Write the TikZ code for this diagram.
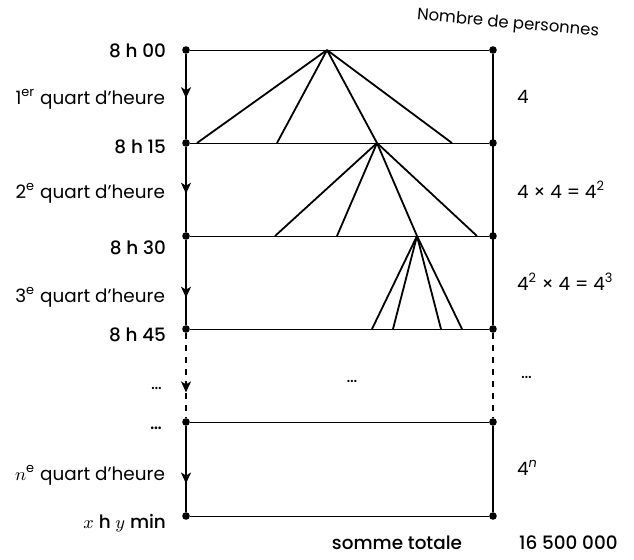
\documentclass[tikz,border=0pt]{standalone}
\usepackage{fontspec}
\setmainfont{Poppins}
\newfontfamily\medfont{Poppins Medium}
\usetikzlibrary{arrows.meta, decorations.markings}

\begin{document}
\begin{tikzpicture}[
  x=0.5pt, y=-0.5pt,
  >=Stealth,
  font=\fontsize{9.2}{11}\selectfont,
  dot/.style={circle, fill=black, inner sep=0pt, minimum size=3.8pt},
  timeline/.style={line width=0.9pt},
  rowline/.style={line width=0.4pt},
  branch/.style={line width=0.9pt},
  flow/.style={timeline, postaction={decorate}, decoration={markings, mark=at position #1 with {\arrow{Stealth[length=5.5pt,width=5pt,inset=1.5pt]}}}},
  timelab/.style={anchor=east, font=\fontsize{9.2}{11}\medfont},
  steplab/.style={anchor=east},
  countlab/.style={anchor=west}
]
\useasboundingbox (0,0) rectangle (634,559);

% Rows (one per quarter of an hour)
\foreach \i/\y in {0/50, 1/143, 2/236, 3/329, 4/422, 5/516} {
  \node[dot] (t\i) at (186,\y) {};
  \node[dot] (p\i) at (493,\y) {};
  \draw[rowline] (t\i) -- (p\i);
}

% Time axis (left)
\draw[flow=0.52] (t0) -- (t1);
\draw[flow=0.55] (t1) -- (t2);
\draw[flow=0.68] (t2) -- (t3);
\draw[flow=0.7, dashed] (t3) -- (t4);
\draw[flow=0.67] (t4) -- (t5);

% Count axis (right)
\draw[timeline] (p0) -- (p3);
\draw[timeline, dashed] (p3) -- (p4);
\draw[timeline] (p4) -- (p5);

% Tree of the calls
\coordinate (a1) at (327,50);
\coordinate (a2) at (377,143);
\coordinate (a3) at (417,236);
\foreach \x [count=\k] in {197, 277, 377, 452} {
  \coordinate (b\k) at (\x,143);
  \draw[branch] (a1) -- (b\k);
}
\foreach \x [count=\k] in {275, 337, 417, 477} {
  \coordinate (c\k) at (\x,236);
  \draw[branch] (a2) -- (c\k);
}
\foreach \x [count=\k] in {372, 393, 441, 462} {
  \coordinate (d\k) at (\x,329);
  \draw[branch] (a3) -- (d\k);
}

% Left labels
\node[timelab] (l0) at (173,51) {8 h 00};
\node[steplab] (s1) at (172,99) {1\textsuperscript{er} quart d'heure};
\node[timelab] (l1) at (173,147) {8 h 15};
\node[steplab] (s2) at (172,193) {2\textsuperscript{e} quart d'heure};
\node[timelab] (l2) at (173,248) {8 h 30};
\node[steplab] (s3) at (172,297) {3\textsuperscript{e} quart d'heure};
\node[timelab] (l3) at (173,335) {8 h 45};
\node[steplab] (s4) at (169,388) {\dots};
\node[timelab] (l4) at (169,428) {\dots};
\node[steplab] (s5) at (172,475) {$n$\textsuperscript{e} quart d'heure};
\node[timelab] (l5) at (173,523) {$x$ h $y$ min};

% Right labels
\node[rotate=-5, font=\fontsize{8.2}{10}\selectfont] (head) at (508,24) {Nombre de personnes};
\node[countlab] (n1) at (510,97) {4};
\node[countlab] (n2) at (510,190) {4 × 4 = 4\textsuperscript{2}};
\node[countlab] (n3) at (510,282) {4\textsuperscript{2} × 4 = 4\textsuperscript{3}};
\node[countlab] (n4) at (514,377) {\dots};
\node (mid) at (352,381) {\dots};
\node[countlab] (n5) at (510,468) {4\textsuperscript{\itshape n}};

% Total
\node[font=\fontsize{9.2}{11}\medfont] (sum) at (397,543) {somme totale};
\node[countlab, font=\fontsize{9.2}{11}\medfont] (total) at (512,543) {16 500 000};

\end{tikzpicture}
\end{document}
